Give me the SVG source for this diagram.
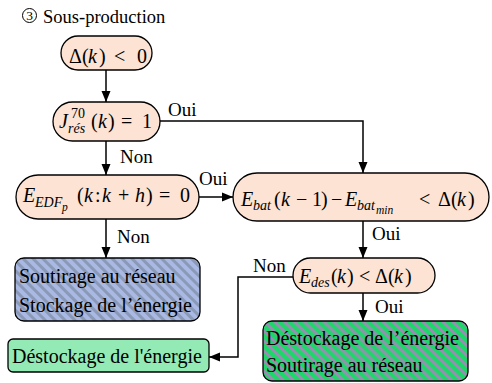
<svg xmlns="http://www.w3.org/2000/svg" width="492" height="383" viewBox="0 0 492 383">
<defs>
<style>
text,tspan{font-family:'Liberation Serif',serif}
.m{font-size:20px}
.i{font-style:italic}
.s{font-size:14px}
.ss{font-size:11.5px}
.lbl{font-size:19px}
.pill{fill:#fce3d3;stroke:#000;stroke-width:1.3}
.box{stroke:#000;stroke-width:1.3}
.c{fill:none;stroke:#000;stroke-width:1.5}
</style>
<marker id="ah" markerUnits="userSpaceOnUse" markerWidth="12" markerHeight="12" viewBox="0 0 12 12" refX="11" refY="6" orient="auto">
<path d="M0,1.5 L11,6 L0,10.5 Z" fill="#000"/>
</marker>
<pattern id="pb" patternUnits="userSpaceOnUse" width="7" height="7" patternTransform="rotate(-45)">
<rect width="7" height="7" fill="#a9b9e3"/>
<rect width="3" height="7" fill="#8a99b6"/>
</pattern>
<pattern id="pg" patternUnits="userSpaceOnUse" width="7" height="7" patternTransform="rotate(-45)">
<rect width="7" height="7" fill="#1fd66a"/>
<rect width="3" height="7" fill="#9590b0"/>
</pattern>
</defs>
<rect width="492" height="383" fill="#fff"/>

<g id="title">
<circle cx="29.5" cy="15.5" r="7" fill="none" stroke="#000" stroke-width="1"/>
<text x="29.5" y="20.3" font-size="13.5" text-anchor="middle">3</text>
<text x="43" y="23" font-size="18.5">Sous-production</text>
</g>

<g id="connectors">
<line class="c" x1="106" y1="70" x2="106" y2="102" marker-end="url(#ah)"/>
<polyline class="c" points="160,121 363,121 363,173" marker-end="url(#ah)"/>
<line class="c" x1="106" y1="141" x2="106" y2="175" marker-end="url(#ah)"/>
<line class="c" x1="199" y1="197" x2="233" y2="197" marker-end="url(#ah)"/>
<line class="c" x1="106" y1="219" x2="106" y2="258" marker-end="url(#ah)"/>
<line class="c" x1="363" y1="221" x2="363" y2="258" marker-end="url(#ah)"/>
<polyline class="c" points="293,277 238,277 238,357 209,357" marker-end="url(#ah)"/>
<line class="c" x1="363" y1="293" x2="363" y2="321" marker-end="url(#ah)"/>
<text class="lbl" x="168" y="116">Oui</text>
<text class="lbl" x="120" y="163">Non</text>
<text class="lbl" x="199" y="185">Oui</text>
<text class="lbl" x="117" y="243">Non</text>
<text class="lbl" x="372" y="240">Oui</text>
<text class="lbl" x="253" y="272">Non</text>
<text class="lbl" x="375" y="313">Oui</text>
</g>

<g id="n-delta">
<rect class="pill" x="61" y="36" width="91" height="34" rx="17"/>
<text class="m" y="63"><tspan x="69">Δ</tspan><tspan x="82">(</tspan><tspan x="88" class="i">k</tspan><tspan x="99">)</tspan><tspan x="114">&lt;</tspan><tspan x="137">0</tspan></text>
</g>

<g id="n-jres">
<rect class="pill" x="53" y="102" width="107" height="39" rx="19.5"/>
<text class="m"><tspan x="59" y="128" class="i">J</tspan><tspan x="71" y="118" class="s">70</tspan><tspan x="68" y="133" class="s i">rés</tspan><tspan x="91" y="128">(</tspan><tspan x="98" y="128" class="i">k</tspan><tspan x="108" y="128">)</tspan><tspan x="121" y="128">=</tspan><tspan x="142" y="128">1</tspan></text>
</g>

<g id="n-edf">
<rect class="pill" x="16" y="175" width="183" height="44" rx="22"/>
<text class="m"><tspan x="23" y="202" class="i">E</tspan><tspan x="35" y="207" class="s i">EDF</tspan><tspan x="62" y="211" class="ss i">p</tspan><tspan x="77" y="202">(</tspan><tspan x="84" y="202" class="i">k</tspan><tspan x="95" y="202">:</tspan><tspan x="102" y="202" class="i">k</tspan><tspan x="118" y="202">+</tspan><tspan x="135" y="202" class="i">h</tspan><tspan x="146" y="202">)</tspan><tspan x="159" y="202">=</tspan><tspan x="180" y="202">0</tspan></text>
</g>

<g id="n-ebat">
<rect class="pill" x="233" y="173" width="256" height="48" rx="24"/>
<text class="m"><tspan x="241" y="206" class="i">E</tspan><tspan x="253" y="210" class="s i">bat</tspan><tspan x="274" y="206">(</tspan><tspan x="281" y="206" class="i">k</tspan><tspan x="296" y="206">−</tspan><tspan x="312" y="206">1</tspan><tspan x="321" y="206">)</tspan><tspan x="331" y="206">−</tspan><tspan x="345" y="206" class="i">E</tspan><tspan x="357" y="210" class="s i">bat</tspan><tspan x="376" y="214" class="ss i">min</tspan><tspan x="419" y="206">&lt;</tspan><tspan x="438" y="206">Δ</tspan><tspan x="451" y="206">(</tspan><tspan x="457" y="206" class="i">k</tspan><tspan x="468" y="206">)</tspan></text>
</g>

<g id="n-edes">
<rect class="pill" x="293" y="258" width="142" height="35" rx="17.5"/>
<text class="m"><tspan x="299" y="283" class="i">E</tspan><tspan x="311" y="287" class="s i">des</tspan><tspan x="331" y="283">(</tspan><tspan x="337" y="283" class="i">k</tspan><tspan x="347" y="283">)</tspan><tspan x="359" y="283">&lt;</tspan><tspan x="375" y="283">Δ</tspan><tspan x="388" y="283">(</tspan><tspan x="394" y="283" class="i">k</tspan><tspan x="405" y="283">)</tspan></text>
</g>

<g id="n-soutirage-stockage">
<rect class="box" x="15" y="258" width="185" height="63" rx="9" fill="url(#pb)"/>
<text class="m" x="19" y="283">Soutirage au réseau</text>
<text class="m" x="19" y="312">Stockage de l’énergie</text>
</g>

<g id="n-destockage">
<rect class="box" x="8" y="339" width="201" height="33" rx="5" fill="#93eab5"/>
<text class="m" x="12" y="363">Déstockage de l'énergie</text>
</g>

<g id="n-destockage-soutirage">
<rect class="box" x="263" y="321" width="205" height="60" rx="9" fill="url(#pg)"/>
<text class="m" x="266" y="345">Déstockage de l’énergie</text>
<text class="m" x="266" y="372">Soutirage au réseau</text>
</g>
</svg>
